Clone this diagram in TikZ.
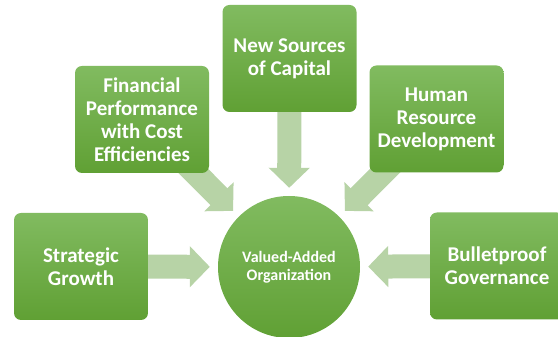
\documentclass[tikz,border=0pt]{standalone}
\usepackage{fontspec}
\setmainfont{Carlito}
\usetikzlibrary{arrows.meta,backgrounds}
\definecolor{leaftop}{RGB}{129,187,96}
\definecolor{leafbot}{RGB}{96,160,52}
\definecolor{flowgreen}{RGB}{183,211,166}

\begin{document}
\begin{tikzpicture}[x=1pt, y=1pt,
  leaf/.style={rectangle, rounded corners=7pt, minimum width=134pt, minimum height=107pt,
    top color=leaftop, bottom color=leafbot, text=white, align=center, inner sep=2pt,
    font=\fontsize{21}{23}\selectfont\bfseries},
  hub/.style={circle, minimum size=142pt, top color=leaftop, bottom color=leafbot,
    text=white, align=center, font=\fontsize{16}{17.5}\selectfont\bfseries},
  flow/.style={line width=24pt, flowgreen, shorten <=-14pt, shorten >=8pt,
    -{Triangle[width=40pt, length=20pt]}}]
\useasboundingbox (0,0) rectangle (558,337);
\node[hub] (org) at (289,70) {Valued-Added\\Organization};
\node[leaf] (grow) at (81,70.5) {Strategic\\Growth};
\node[leaf] (fin) at (142,217.5) {Financial\\Performance\\with Cost\\Efficiencies};
\node[leaf] (cap) at (289.5,278.5) {New Sources\\of Capital};
\node[leaf] (hr) at (436.5,218) {Human\\Resource\\Development};
\node[leaf] (gov) at (497,71) {Bulletproof\\Governance};
\begin{scope}[on background layer]
\path
(grow) edge[flow] (org)
(fin) edge[flow] (org)
(cap) edge[flow] (org)
(hr) edge[flow] (org)
(gov) edge[flow] (org);
\end{scope}
\end{tikzpicture}
\end{document}
